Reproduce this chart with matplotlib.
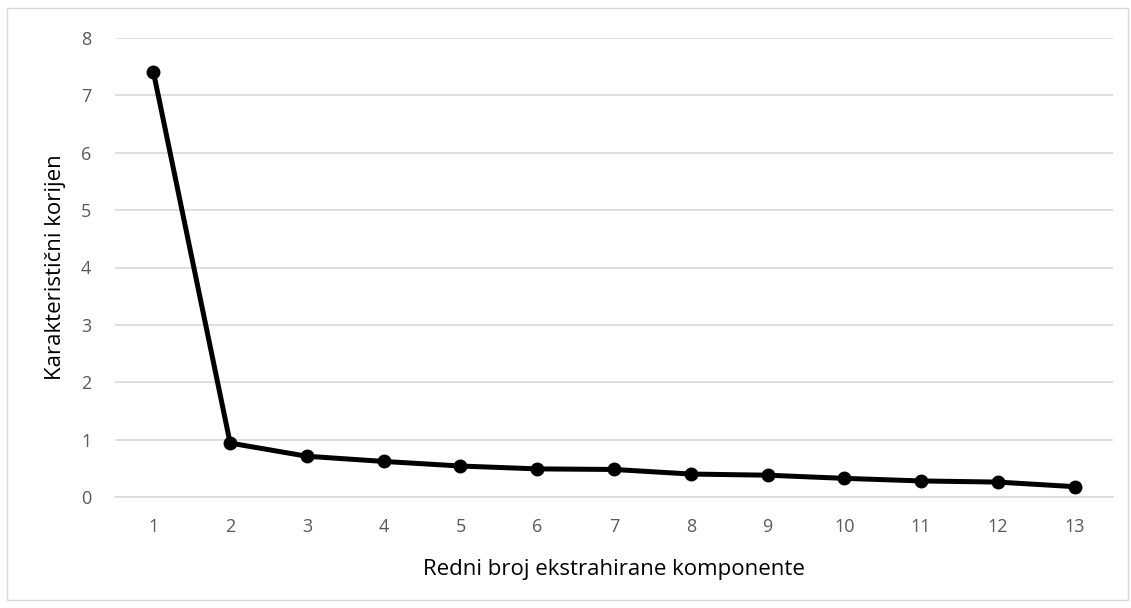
import matplotlib
matplotlib.use("Agg")
import matplotlib.pyplot as plt
from matplotlib.patches import Rectangle

# scree plot values
components = [1, 2, 3, 4, 5, 6, 7, 8, 9, 10, 11, 12, 13]
eigenvalues = [7.41, 0.94, 0.71, 0.62, 0.54, 0.49, 0.48, 0.40, 0.38, 0.325, 0.28, 0.26, 0.18]
y_ticks = [0, 1, 2, 3, 4, 5, 6, 7, 8]

plt.rcParams['font.family'] = ['Open Sans', 'DejaVu Sans']

fig = plt.figure(figsize=(11.31, 6.08), dpi=100)
ax = fig.add_axes([115 / 1131, 111 / 608, 998 / 1131, 459 / 608])

# chart border like the spreadsheet frame
fig.patches.append(Rectangle((7 / 1131, 8 / 608), 1121 / 1131, 592 / 608,
                             transform=fig.transFigure, fill=False,
                             edgecolor='#d9d9d9', linewidth=1))

ax.plot(components, eigenvalues, color='black', linewidth=3.6,
        marker='o', markersize=9, solid_joinstyle='round', zorder=3)

ax.set_xlim(0.5, 13.5)
ax.set_ylim(0, 8)
ax.set_xticks(components)
ax.set_yticks(y_ticks)
ax.grid(axis='y', color='#d9d9d9', linewidth=1.2)
ax.set_axisbelow(True)

for side in ['top', 'right', 'left']:
    ax.spines[side].set_visible(False)
ax.spines['bottom'].set_color('#d9d9d9')
ax.spines['bottom'].set_linewidth(1.2)
ax.tick_params(axis='both', length=0, labelsize=13, labelcolor='#595959')
ax.tick_params(axis='y', pad=17)
ax.tick_params(axis='x', pad=15)

ax.set_xlabel('Redni broj ekstrahirane komponente', fontsize=16, labelpad=17)
ax.set_ylabel('Karakteristični korijen', fontsize=16, labelpad=11)

fig.savefig('out.png', dpi=100)
